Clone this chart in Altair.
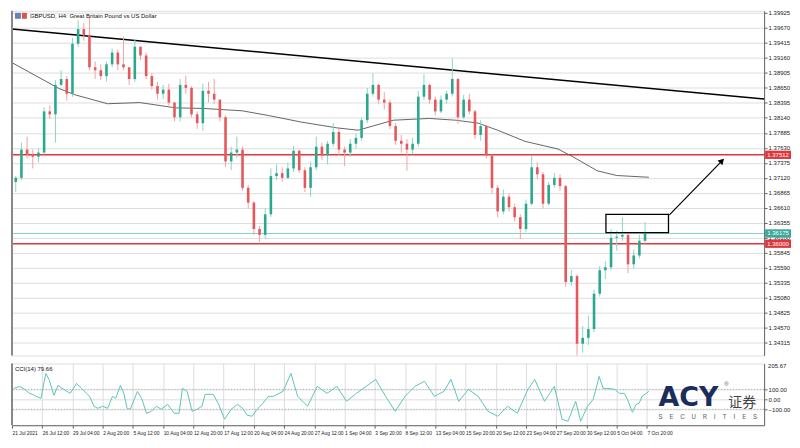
import json
import altair as alt
import pandas as pd

# ---------------- data (12h candles = 3 H4 bars) ----------------
first_open = 1.3705
closes = [1.3712, 1.3760, 1.3752, 1.3748, 1.3755, 1.3825, 1.3820, 1.3870, 1.3880, 1.3855,
          1.3940, 1.3965, 1.3955, 1.3900, 1.3895, 1.3885, 1.3905, 1.3925, 1.3905, 1.3900,
          1.3880, 1.3935, 1.3920, 1.3885, 1.3868, 1.3855, 1.3862, 1.3840, 1.3815, 1.3870,
          1.3865, 1.3820, 1.3805, 1.3860, 1.3855, 1.3845, 1.3815, 1.3740, 1.3755, 1.3760,
          1.3695, 1.3670, 1.3625, 1.3615, 1.3650, 1.3715, 1.3720, 1.3712, 1.3728, 1.3758,
          1.3725, 1.3695, 1.3730, 1.3765, 1.3750, 1.3770, 1.3790, 1.3760, 1.3755, 1.3770,
          1.3780, 1.3810, 1.3855, 1.3870, 1.3845, 1.3840, 1.3800, 1.3775, 1.3770, 1.3760,
          1.3770, 1.3850, 1.3870, 1.3845, 1.3825, 1.3845, 1.3855, 1.3880, 1.3815, 1.3845,
          1.3825, 1.3785, 1.3800, 1.3750, 1.3695, 1.3655, 1.3680, 1.3662, 1.3645, 1.3625,
          1.3668, 1.3730, 1.3718, 1.3668, 1.3700, 1.3712, 1.3698, 1.3535, 1.3545, 1.3430,
          1.3440, 1.3455, 1.3515, 1.3555, 1.3560, 1.3610, 1.3612, 1.3615, 1.3565, 1.3580,
          1.3605, 1.36175]
highs = [1.3715, 1.3772, 1.3782, 1.3760, 1.3762, 1.3832, 1.3835, 1.3878, 1.3895, 1.3885,
         1.3950, 1.3980, 1.3975, 1.3985, 1.3910, 1.3905, 1.3910, 1.3932, 1.3930, 1.3952,
         1.3900, 1.3948, 1.3935, 1.3925, 1.3890, 1.3875, 1.3870, 1.3872, 1.3840, 1.3880,
         1.3886, 1.3868, 1.3825, 1.3872, 1.3875, 1.3880, 1.3845, 1.3818, 1.3765, 1.3782,
         1.3765, 1.3700, 1.3672, 1.3630, 1.3660, 1.3728, 1.3735, 1.3730, 1.3738, 1.3766,
         1.3760, 1.3730, 1.3740, 1.3782, 1.3772, 1.3775, 1.3805, 1.3795, 1.3765, 1.3778,
         1.3788, 1.3815, 1.3865, 1.3890, 1.3872, 1.3858, 1.3845, 1.3805, 1.3785, 1.3778,
         1.3780, 1.3860, 1.3888, 1.3872, 1.3850, 1.3852, 1.3860, 1.3915, 1.3882, 1.3853,
         1.3855, 1.3828, 1.3810, 1.3802, 1.3752, 1.3700, 1.3692, 1.3685, 1.3668, 1.3650,
         1.3675, 1.3750, 1.3738, 1.3722, 1.3705, 1.3720, 1.3718, 1.3700, 1.3555, 1.3548,
         1.3460, 1.3478, 1.3522, 1.3562, 1.3570, 1.3625, 1.3622, 1.3645, 1.3620, 1.3590,
         1.3615, 1.3637]
lows = [1.3688, 1.3708, 1.3745, 1.3728, 1.3738, 1.3752, 1.3812, 1.3772, 1.3868, 1.3843,
        1.3850, 1.3935, 1.3945, 1.3895, 1.3880, 1.3878, 1.3876, 1.3900, 1.3895, 1.3895,
        1.3870, 1.3875, 1.3912, 1.3880, 1.3862, 1.3845, 1.3846, 1.3835, 1.3808, 1.3808,
        1.3855, 1.3815, 1.3795, 1.3792, 1.3840, 1.3838, 1.3808, 1.3730, 1.3725, 1.3745,
        1.3690, 1.3660, 1.3615, 1.3603, 1.3608, 1.3645, 1.3708, 1.3705, 1.3710, 1.3722,
        1.3720, 1.3688, 1.3680, 1.3725, 1.3742, 1.3735, 1.3765, 1.3750, 1.3732, 1.3748,
        1.3762, 1.3775, 1.3805, 1.3850, 1.3838, 1.3828, 1.3795, 1.3768, 1.3755, 1.3724,
        1.3752, 1.3765, 1.3845, 1.3838, 1.3818, 1.3822, 1.3838, 1.3850, 1.3804, 1.3812,
        1.3820, 1.3778, 1.3775, 1.3745, 1.3685, 1.3645, 1.3650, 1.3655, 1.3638, 1.3608,
        1.3620, 1.3665, 1.3710, 1.3660, 1.3665, 1.3695, 1.3690, 1.3527, 1.3528, 1.3410,
        1.3415, 1.3428, 1.3450, 1.3510, 1.3540, 1.3555, 1.3588, 1.3605, 1.3550, 1.3558,
        1.3575, 1.3600]

# moving average (bar index, price)
ma_bar = [0.5, 24.8, 33.5, 50.6, 67.6, 86.7, 101.2, 121.8, 135.7, 152.8, 171.9, 183.2,
          201.8, 220.9, 234.8, 246.7, 257.0, 271.5, 289.0, 297.3, 309.7, 320.0, 337.0]
ma_val = [1.3907, 1.3864, 1.3853, 1.3838, 1.3840, 1.3831, 1.3830, 1.3826, 1.3818, 1.3807,
          1.3797, 1.3793, 1.3810, 1.3813, 1.3810, 1.3805, 1.3793, 1.3774, 1.3761, 1.3747,
          1.3724, 1.3716, 1.3713]

# CCI(14) (bar index, value)
cci_bar = [1.0, 4.1, 6.7, 9.3, 11.0, 12.7, 15.3, 17.9, 19.6, 22.2, 24.4, 26.5, 29.1, 30.8,
           34.2, 36.8, 39.4, 41.1, 43.4, 45.4, 48.0, 50.6, 53.2, 54.9, 57.4, 59.2, 60.9,
           62.6, 66.4, 68.6, 71.2, 73.8, 76.4, 79.0, 82.4, 85.8, 88.4, 90.2, 92.7, 95.3,
           97.9, 100.5, 102.2, 106.5, 109.1, 112.5, 116.0, 119.4, 122.0, 124.5, 127.1,
           129.7, 132.3, 135.7, 138.3, 143.5, 147.6, 151.2, 156.4, 161.5, 166.7, 171.9,
           177.0, 182.2, 187.4, 192.5, 197.7, 202.8, 208.0, 213.2, 218.3, 223.5, 228.6,
           232.3, 236.4, 241.5, 246.7, 251.9, 257.0, 262.2, 267.4, 272.5, 276.6, 281.8,
           287.0, 291.1, 294.2, 298.3, 300.9, 304.5, 307.6, 310.7, 312.8, 315.4, 319.0,
           321.5, 324.1, 325.7, 327.7, 328.3, 330.3, 331.9, 333.4, 335.5, 337.0]
cci_val = [110, 130, 100, 60, 50, 30, 10, 260, 200, 40, 140, 110, 80, 60,
           160, 110, 60, 30, -70, -90, -70, -90, 30, 10, 140, 60, -90,
           -100, 80, 10, -140, -120, -70, -100, -50, -140, -140, 110, 80, -120,
           -100, -70, 50, 50, -40, -200, -100, -50, -90, -160, -170,
           -100, -50, 30, 30, 80, 260, 30, -70, 130, 60, 130,
           -20, 60, 130, 200, 30, -120, 30, 130, 180, 30, 80,
           200, -20, 100, 30, -120, -170, -70, -140, 80, 200, -20,
           130, -200, -220, -20, -220, -70, 0, 230, 110, 110, 100,
           60, 60, 0, -100, -130, -50, -40, 30, 60, 80]
cci_levels = [100, -100]

trend_bar = [0, 398]
trend_val = [1.3965, 1.3846]
box_bar = [314.3, 347.4]
box_val = [1.3619, 1.3650]
arrow_bar = [347.9, 375.7]
arrow_val = [1.3649, 1.3741]

red_levels = [1.37512, 1.36000]
bid_level = [1.36175]
marker_prices = [1.37512, 1.36175, 1.36000]
marker_text = ["1.37512", "1.36175", "1.36000"]
marker_kind = ["level", "bid", "level"]

price_ticks = [1.39925, 1.39670, 1.39415, 1.39160, 1.38905, 1.38650, 1.38395, 1.38140,
               1.37885, 1.37630, 1.37375, 1.37120, 1.36865, 1.36610, 1.36355, 1.36100,
               1.35845, 1.35590, 1.35335, 1.35080, 1.34825, 1.34570, 1.34315]
cci_ticks = [100, 0, -100]
date_labels = ["21 Jul 2021", "26 Jul 12:00", "29 Jul 04:00", "2 Aug 20:00", "5 Aug 12:00",
               "10 Aug 04:00", "12 Aug 20:00", "17 Aug 12:00", "20 Aug 04:00", "24 Aug 20:00",
               "27 Aug 12:00", "1 Sep 04:00", "3 Sep 20:00", "8 Sep 12:00", "13 Sep 04:00",
               "15 Sep 20:00", "20 Sep 12:00", "23 Sep 04:00", "27 Sep 20:00", "30 Sep 12:00",
               "5 Oct 04:00", "7 Oct 20:00"]
date_tick_bars = [16 * i for i in range(len(date_labels))]

title_text = "GBPUSD, H4: Great Britain Pound vs US Dollar"
cci_title = "CCI(14) 79.66"
cci_max_text = "205.67"

# ---------------- styling ----------------
W = 755
H_MAIN = 346
H_CCI = 62
FONT = "Liberation Sans"
UP, DN = "#2aa88e", "#e5575a"
UPW, DNW = "#8fd3c6", "#f0a3a4"
RED, TEAL = "#e0363b", "#3aa89a"

opens = [first_open] + closes[:-1]
cdf = pd.DataFrame({"bar": [3 * k + 2 for k in range(len(closes))],
                    "o": opens, "h": highs, "l": lows, "c": closes})

xs = alt.Scale(domain=[0, 398], nice=False, zero=False)
ys = alt.Scale(domain=[1.3410, 1.3996], nice=False, zero=False)
X = alt.X("bar:Q", scale=xs, axis=None)
yaxis = alt.Axis(orient="right", values=price_ticks, format=".5f", title=None,
                 labelOverlap=False, tickSize=3, labelPadding=1, labelFontSize=6,
                 labelFont=FONT, labelColor="#222", domainColor="#666", tickColor="#666")


def Y(field):
    return alt.Y(field, type="quantitative", scale=ys, axis=yaxis)


col = alt.condition("datum.c >= datum.o", alt.value(UP), alt.value(DN))
colw = alt.condition("datum.c >= datum.o", alt.value(UPW), alt.value(DNW))

one = pd.DataFrame({"a": [0]})

red_lines = alt.Chart(pd.DataFrame({"p": red_levels})).mark_rule(
    color=RED, strokeWidth=1.5).encode(y=Y("p"))
bid_line = alt.Chart(pd.DataFrame({"p": bid_level})).mark_rule(
    color="#7fd0c5", strokeWidth=1).encode(y=Y("p"))
ma = alt.Chart(pd.DataFrame({"bar": ma_bar, "v": ma_val})).mark_line(
    color="#555", strokeWidth=0.9).encode(x=X, y=Y("v"))
trend = alt.Chart(pd.DataFrame({"bar": trend_bar, "v": trend_val})).mark_line(
    color="black", strokeWidth=1.5).encode(x=X, y=Y("v"))
wicks = alt.Chart(cdf).mark_rule(strokeWidth=1).encode(
    x=X, y=Y("l"), y2="h:Q", color=colw)
bodies = alt.Chart(cdf).mark_rule(strokeWidth=2.6, strokeCap="butt").encode(
    x=X, y=Y("o"), y2="c:Q", color=col)
box = alt.Chart(pd.DataFrame({"x0": [box_bar[0]], "x1": [box_bar[1]],
                              "y0": [box_val[0]], "y1": [box_val[1]]})).mark_rect(
    fillOpacity=0, stroke="black", strokeWidth=1.3).encode(
    x=alt.X("x0:Q", scale=xs, axis=None), x2="x1:Q", y=Y("y0"), y2="y1:Q")
arrow = alt.Chart(pd.DataFrame({"bar": arrow_bar, "v": arrow_val})).mark_line(
    color="black", strokeWidth=1.2).encode(x=X, y=Y("v"))
arrow_head = alt.Chart(pd.DataFrame({"bar": [arrow_bar[1]], "v": [arrow_val[1]]})).mark_point(
    shape="triangle-up", filled=True, size=45, angle=44, color="black", opacity=1).encode(
    x=X, y=Y("v"))

mdf = pd.DataFrame({"p": marker_prices, "t": marker_text, "k": marker_kind})
RECT_PATH = "M-1,-0.32L1,-0.32L1,0.32L-1,0.32Z"
mboxes = alt.Chart(mdf).mark_point(shape=RECT_PATH, size=676, filled=True, opacity=1).encode(
    x=alt.value(W + 14), y=Y("p"),
    color=alt.Color("k:N", scale=alt.Scale(domain=["level", "bid"], range=[RED, TEAL]), legend=None))
mtext = alt.Chart(mdf).mark_text(color="white", fontSize=6, font=FONT).encode(
    x=alt.value(W + 14), y=Y("p"), text="t:N")

icon1 = alt.Chart(one).mark_rect(color="#6d7fb8").encode(
    x=alt.value(3), x2=alt.value(9), y=alt.value(2), y2=alt.value(8))
icon2 = alt.Chart(one).mark_rect(color="#d9534f").encode(
    x=alt.value(10), x2=alt.value(15), y=alt.value(2), y2=alt.value(8))
title = alt.Chart(pd.DataFrame({"t": [title_text]})).mark_text(
    align="left", baseline="middle", fontSize=6, font=FONT, color="#111").encode(
    x=alt.value(18), y=alt.value(5), text="t:N")
left_border = alt.Chart(one).mark_rule(color="#888", strokeWidth=2).encode(
    x=alt.value(0), y=alt.value(0), y2=alt.value(H_MAIN))

main = alt.layer(red_lines, bid_line, ma, trend, wicks, bodies, box, arrow, arrow_head,
                 mboxes, mtext, icon1, icon2, title, left_border).properties(
    width=W, height=H_MAIN)

# ---------------- CCI panel ----------------
cci_scale = alt.Scale(domain=[-260, 360], nice=False, zero=False)
cci_axis = alt.Axis(orient="right", values=cci_ticks, format=".2f", title=None,
                    labelOverlap=False, tickSize=3, labelPadding=1, labelFontSize=6,
                    labelFont=FONT, labelColor="#222", domainColor="#666", tickColor="#666")
CY = alt.Y("v:Q", scale=cci_scale, axis=cci_axis)
xaxis = alt.Axis(values=date_tick_bars, title=None,
                 labelExpr=json.dumps(date_labels) + "[round(datum.value / 16)]",
                 labelAlign="left", labelPadding=2, tickSize=3, labelOverlap=False,
                 labelFontSize=4.9, labelFont=FONT, labelColor="#222",
                 domainColor="#666", tickColor="#666")
CX = alt.X("bar:Q", scale=xs, axis=xaxis)

levels = alt.Chart(pd.DataFrame({"v": cci_levels})).mark_rule(
    color="#aaa", strokeDash=[1, 2], strokeWidth=1).encode(y=CY)
cci_line = alt.Chart(pd.DataFrame({"bar": cci_bar, "v": cci_val})).mark_line(
    color="#5cc5bb", strokeWidth=1).encode(x=CX, y=CY)
cci_lbl = alt.Chart(pd.DataFrame({"t": [cci_title]})).mark_text(
    align="left", baseline="middle", fontSize=6, font=FONT, color="#111").encode(
    x=alt.value(3), y=alt.value(6), text="t:N")
cci_max = alt.Chart(pd.DataFrame({"t": [cci_max_text]})).mark_text(
    align="left", baseline="middle", fontSize=6, font=FONT, color="#222").encode(
    x=alt.value(W + 4), y=alt.value(3), text="t:N")
logo_a = alt.Chart(pd.DataFrame({"t": ["ACY"]})).mark_text(
    align="left", baseline="alphabetic", fontSize=27, fontWeight="bold", font="DejaVu Sans",
    color="#1b2d5b").encode(x=alt.value(649), y=alt.value(43), text="t:N")
logo_r = alt.Chart(pd.DataFrame({"t": ["®"]})).mark_text(
    align="left", baseline="middle", fontSize=6, font=FONT, color="#555").encode(
    x=alt.value(715), y=alt.value(21), text="t:N")
logo_cn = alt.Chart(pd.DataFrame({"t": ["证券"]})).mark_text(
    align="left", baseline="alphabetic", fontSize=14, font="Noto Sans CJK SC",
    color="#444").encode(x=alt.value(719), y=alt.value(44), text="t:N")
logo_s = alt.Chart(pd.DataFrame({"t": ["S\u2003E\u2003C\u2003U\u2003R\u2003I\u2003T\u2003I\u2003E\u2003S"]})).mark_text(
    align="left", baseline="alphabetic", fontSize=6.8, font="Roboto",
    color="#666").encode(x=alt.value(649), y=alt.value(56), text="t:N")
left_border2 = alt.Chart(one).mark_rule(color="#888", strokeWidth=2).encode(
    x=alt.value(0), y=alt.value(0), y2=alt.value(H_CCI))

cci = alt.layer(levels, cci_line, cci_lbl, cci_max, logo_a, logo_r, logo_cn, logo_s,
                left_border2).properties(width=W, height=H_CCI)

chart = alt.vconcat(main, cci, spacing=4).properties(padding=0).configure_view(
    stroke="#8a8a8a", strokeWidth=1).configure(background="white")

chart.save("out.html", embed_options={"renderer": "svg", "actions": False})
